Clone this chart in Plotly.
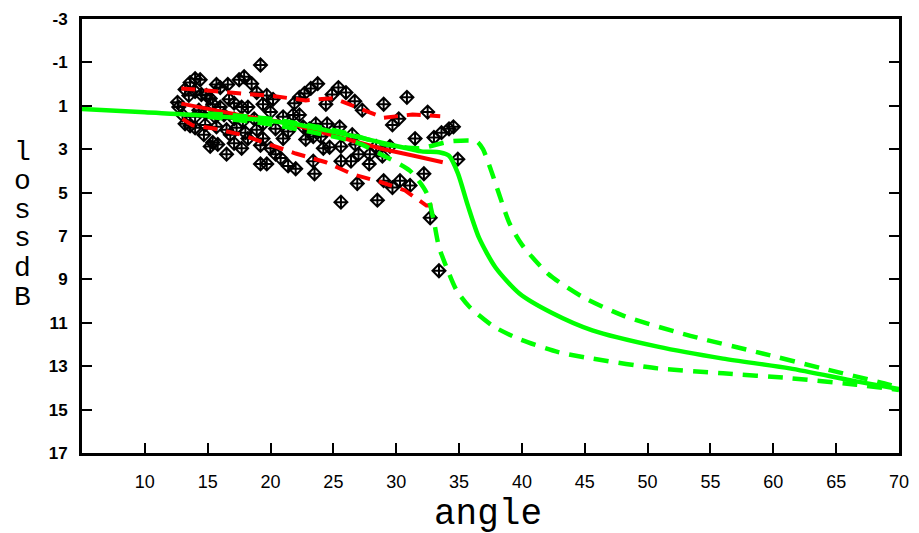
import plotly.graph_objects as go

# ---- measured scatter: angle vs loss (dB) ----
scatter_angle = [
    19.2, 14.0, 14.4, 13.6, 17.5, 17.9, 18.5, 15.7, 16.0, 16.6,
    12.6, 14.0, 14.5, 14.9, 15.2, 13.2, 13.5, 23.75, 23.2, 22.7,
    22.3, 21.9, 25.4, 26.0, 26.7, 24.4, 24.9, 19.7, 20.2, 19.4,
    20.0, 21.0, 21.8, 22.3, 29.0, 30.85, 27.3, 29.7, 30.2, 32.5,
    16.7, 17.1, 17.7, 18.2, 16.0, 15.4, 18.9, 14.3, 14.85, 15.6,
    16.3, 17.1, 17.8, 18.7, 19.4, 13.2, 13.6, 14.0, 14.8, 15.7,
    16.5, 17.3, 18.0, 18.9, 20.4, 21.4, 22.6, 23.1, 23.6, 24.5,
    25.5, 21.0, 22.8, 23.4, 24.0, 24.7, 20.0, 25.6, 26.5, 26.75,
    31.5, 33.0, 33.6, 34.2, 34.55, 34.9, 27.85, 29.0, 29.7, 30.3,
    31.1, 28.5, 32.2, 32.7, 33.4, 20.4, 20.8, 19.7, 21.4, 22.0,
    23.5, 25.6, 26.4, 27.0, 26.9, 25.6, 16.5, 19.2, 15.4, 15.8,
    17.1, 17.7, 19.2, 15.2, 13.0, 14.0, 14.7, 12.7, 27.9, 28.4,
    29.5, 28.9, 19.4, 18.2, 16.8, 23.4, 24.2,
]
scatter_loss = [
    -0.88, -0.25, -0.20, -0.07, -0.20, -0.34, -0.02, 0.02, 0.16, 0.02,
    0.84, 0.34, 0.48, 0.52, 0.66, 0.25, 0.52, -0.02, 0.20, 0.43,
    0.61, 0.88, 0.16, 0.39, 0.79, 0.93, 0.48, 0.52, 0.70, 0.93,
    1.29, 1.51, 1.42, 1.42, 0.93, 0.61, 1.20, 1.88, 1.60, 1.29,
    0.70, 0.88, 1.06, 1.06, 1.06, 0.93, 0.39, 1.20, 1.33, 1.51,
    1.42, 1.60, 1.70, 1.60, 1.83, 1.83, 1.92, 2.01, 1.88, 1.97,
    2.10, 2.01, 2.24, 2.10, 2.06, 2.19, 1.97, 2.06, 1.83, 1.83,
    1.97, 2.51, 2.55, 2.42, 2.42, 2.91, 2.96, 2.87, 2.33, 2.78,
    2.51, 2.46, 2.24, 2.06, 1.97, 3.46, 3.68, 4.45, 4.77, 4.45,
    4.67, 5.35, 4.13, 6.16, 8.60, 3.23, 3.41, 3.68, 3.77, 3.90,
    4.13, 3.55, 3.55, 3.23, 4.58, 5.44, 3.23, 3.68, 2.69, 2.78,
    2.73, 2.96, 2.82, 2.87, 1.42, 1.51, 2.33, 1.06, 3.23, 2.87,
    2.87, 3.32, 2.51, 2.51, 2.33, 3.55, 2.96,
]

# ---- binned mean and spread of the measurements (red) ----
red_mean_angle = [12.9, 15.6, 18.2, 21.4, 24.0, 26.7, 29.0, 31.4, 33.7]
red_mean_loss = [0.9, 1.2, 1.5, 1.8, 2.2, 2.6, 3.0, 3.3, 3.6]
red_hi_angle = [12.9, 15.2, 17.7, 20.2, 22.8, 25.0, 27.0, 29.0, 31.3, 33.5]
red_hi_loss = [0.2, 0.3, 0.4, 0.55, 0.75, 0.65, 1.1, 1.55, 1.4, 1.48]
red_lo_angle = [13.0, 13.8, 15.5, 17.8, 20.0, 22.0, 24.4, 26.5, 28.7, 30.7, 32.4, 33.0]
red_lo_loss = [1.6, 1.9, 2.05, 2.35, 2.8, 3.2, 3.6, 4.15, 4.5, 4.9, 5.6, 5.6]

# ---- model curve and its bounds (green) ----
model_angle = [5, 10, 15, 20, 22, 25, 27, 30, 32, 33.5, 34.2, 34.9, 35.7,
               36.6, 37.9, 39.8, 42.4, 45.6, 50.8, 56.0, 61.3, 66.6, 70]
model_loss = [1.15, 1.3, 1.45, 1.7, 1.85, 2.2, 2.45, 2.85, 3.1, 3.15, 3.3,
              4.1, 5.6, 7.1, 8.45, 9.65, 10.55, 11.35, 12.1, 12.65, 13.1, 13.7, 14.05]
model_hi_angle = [15, 20, 24, 26, 29.3, 31.9, 34.3, 36.4, 36.9, 37.5, 38.2, 39.0,
                  40.0, 42.1, 44.8, 48.2, 53.4, 58.7, 63.9, 69.2, 70]
model_hi_loss = [1.35, 1.6, 2.0, 2.25, 2.8, 2.95, 2.64, 2.64, 3.0, 3.9, 5.1, 6.4,
                 7.4, 8.75, 9.8, 10.7, 11.6, 12.35, 13.1, 13.85, 14.0]
model_lo_angle = [15, 20, 24, 26.9, 29.0, 31.1, 32.4, 32.95, 33.4, 34.0, 34.8, 35.8,
                  37.7, 39.8, 42.9, 45.6, 50.8, 56.0, 61.3, 66.6, 70]
model_lo_loss = [1.5, 1.85, 2.3, 2.7, 3.3, 4.0, 5.0, 6.2, 7.5, 8.44, 9.5, 10.25,
                 11.15, 11.75, 12.35, 12.65, 13.1, 13.33, 13.55, 13.85, 14.1]

x_ticks = list(range(10, 71, 5))
y_ticks = list(range(-3, 18, 2))

RED = "#ff0000"
GREEN = "#00ff00"

fig = go.Figure()

fig.add_trace(go.Scatter(
    x=scatter_angle, y=scatter_loss, mode="markers",
    marker=dict(symbol="diamond-cross-open", size=10, color="black",
                line=dict(color="black", width=2)),
    showlegend=False,
))

for xs, ys, dash in [(red_hi_angle, red_hi_loss, "14px,9px"),
                     (red_lo_angle, red_lo_loss, "14px,9px"),
                     (red_mean_angle, red_mean_loss, "solid")]:
    fig.add_trace(go.Scatter(x=xs, y=ys, mode="lines",
                             line=dict(color=RED, width=4, dash=dash),
                             showlegend=False))

for xs, ys, dash in [(model_hi_angle, model_hi_loss, "15px,10px"),
                     (model_lo_angle, model_lo_loss, "15px,10px"),
                     (model_angle, model_loss, "solid")]:
    fig.add_trace(go.Scatter(x=xs, y=ys, mode="lines",
                             line=dict(color=GREEN, width=4.5, dash=dash,
                                       shape="spline", smoothing=0.7),
                             showlegend=False))

x_tick_font = dict(family="Liberation Sans", size=18, color="black")
y_tick_font = dict(family="Liberation Sans", size=17, color="black", weight="bold")

fig.update_xaxes(
    range=[5, 70], tickvals=x_ticks, ticktext=[str(v) for v in x_ticks],
    ticks="inside", ticklen=10, tickwidth=2, tickcolor="black",
    showline=True, linewidth=3, linecolor="black", mirror=True,
    showgrid=False, zeroline=False, tickfont=x_tick_font, ticklabelstandoff=10,
)
fig.update_yaxes(
    range=[17, -3], tickvals=y_ticks, ticktext=[str(v) for v in y_ticks],
    ticks="inside", ticklen=10, tickwidth=2, tickcolor="black",
    showline=True, linewidth=3, linecolor="black", mirror="ticks",
    showgrid=False, zeroline=False, tickfont=y_tick_font, ticklabelstandoff=8,
)

title_font = dict(family="Liberation Mono", size=36, color="black")
ytitle_font = dict(family="Liberation Mono", size=28, color="black")

# x-axis title
fig.add_annotation(text="angle", xref="paper", yref="paper",
                   x=(492 - 82) / 825, y=-(494 - 453) / 443,
                   showarrow=False, font=title_font,
                   xanchor="center", yanchor="top", height=38)

# y-axis title, letters stacked upright
y_title_letters = ["l", "o", "s", "s", "d", "B"]
letter_rows = [146, 175, 205, 234, 264, 294]
for ch, py in zip(y_title_letters, letter_rows):
    fig.add_annotation(text=ch, xref="paper", yref="paper",
                       x=(22 - 82) / 825, y=(453 - py) / 443,
                       showarrow=False, font=ytitle_font,
                       xanchor="center", yanchor="middle",
                       height=26)

fig.update_layout(
    width=919, height=533,
    margin=dict(l=82, r=12, t=10, b=80),
    plot_bgcolor="white", paper_bgcolor="white",
    showlegend=False,
)

fig.write_html("out.html")
